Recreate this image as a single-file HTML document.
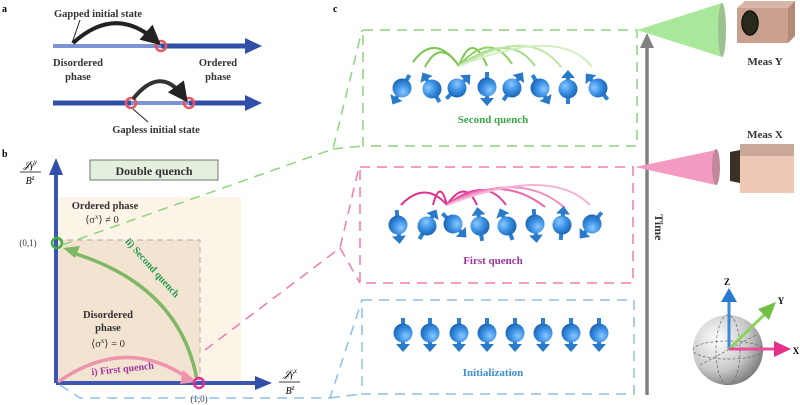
<!DOCTYPE html>
<html><head><meta charset="utf-8"><style>
html,body{margin:0;padding:0;background:#fff;}
svg{display:block;font-family:"Liberation Serif",serif;}
</style></head><body>
<svg width="800" height="405" viewBox="0 0 800 405" xmlns="http://www.w3.org/2000/svg">
<defs>
<radialGradient id="ball" cx="0.35" cy="0.35" r="0.7">
<stop offset="0" stop-color="#8cc8ff"/><stop offset="0.5" stop-color="#3d93e6"/><stop offset="1" stop-color="#1c64b4"/>
</radialGradient>
<radialGradient id="sph" cx="0.35" cy="0.35" r="0.75">
<stop offset="0" stop-color="#ffffff"/><stop offset="0.6" stop-color="#c8c8c8"/><stop offset="1" stop-color="#6e6e6e"/>
</radialGradient>
<g id="spin">
<rect x="-2" y="6" width="4" height="9" fill="#2d7fd0"/>
<rect x="-2" y="-13" width="4" height="6" fill="#2d7fd0"/>
<circle r="9.5" fill="url(#ball)"/>
<polygon points="-7,-11 7,-11 0,-19" fill="#2a78c8"/>
</g>
<marker id="bk" markerWidth="5" markerHeight="5" refX="3" refY="2.5" orient="auto" markerUnits="strokeWidth"><path d="M0,0 L5,2.5 L0,5z" fill="#222"/></marker>
</defs>

<!-- Panel a -->
<text x="2" y="12" font-size="10" font-weight="bold">a</text>
<line x1="53" y1="46" x2="161" y2="46" stroke="#7e93d3" stroke-width="4"/>
<line x1="161" y1="46" x2="248" y2="46" stroke="#2f4fa8" stroke-width="5"/>
<polygon points="245,38 262,46 245,54" fill="#2f4fa8"/>
<circle cx="161" cy="46" r="5" fill="none" stroke="#e9545f" stroke-width="2.5"/>
<path d="M73,43 Q115,5 155,40" fill="none" stroke="#222" stroke-width="4" marker-end="url(#bk)"/>
<line x1="80" y1="20" x2="72" y2="43" stroke="#222" stroke-width="1"/>
<text x="98" y="17" font-size="10.5" font-weight="bold" text-anchor="middle" fill="#333">Gapped initial state</text>
<text x="78" y="66" font-size="10.5" font-weight="bold" text-anchor="middle" fill="#333">Disordered</text>
<text x="78" y="80" font-size="10.5" font-weight="bold" text-anchor="middle" fill="#333">phase</text>
<text x="218" y="66" font-size="10.5" font-weight="bold" text-anchor="middle" fill="#333">Ordered</text>
<text x="218" y="80" font-size="10.5" font-weight="bold" text-anchor="middle" fill="#333">phase</text>
<line x1="53" y1="103" x2="131" y2="103" stroke="#2f4fa8" stroke-width="5"/>
<line x1="131" y1="103" x2="189" y2="103" stroke="#7e93d3" stroke-width="4"/>
<line x1="189" y1="103" x2="248" y2="103" stroke="#2f4fa8" stroke-width="5"/>
<polygon points="245,95 262,103 245,111" fill="#2f4fa8"/>
<circle cx="131" cy="103" r="5" fill="none" stroke="#e9545f" stroke-width="2.5"/>
<circle cx="189" cy="103" r="5" fill="none" stroke="#e9545f" stroke-width="2.5"/>
<path d="M133,99 Q160,65 183,96" fill="none" stroke="#333" stroke-width="4" marker-end="url(#bk)"/>
<line x1="133" y1="109" x2="148" y2="122" stroke="#222" stroke-width="1"/>
<text x="156" y="133" font-size="10.5" font-weight="bold" text-anchor="middle" fill="#333">Gapless initial state</text>

<!-- Panel b -->
<text x="2" y="157" font-size="10" font-weight="bold">b</text>
<rect x="57" y="197" width="184" height="186" fill="#fcf4e7"/>
<rect x="57" y="240" width="143" height="143" fill="#f3e4d2"/>
<path d="M57,240 H200 V383" fill="none" stroke="#b8b8b8" stroke-width="1.2" stroke-dasharray="6,4"/>
<rect x="90" y="160" width="128" height="20" fill="#e3f0dd" stroke="#555" stroke-width="0.8"/>
<text x="154" y="175" font-size="12" font-weight="bold" text-anchor="middle" fill="#333">Double quench</text>
<line x1="56" y1="383" x2="56" y2="172" stroke="#3a56b0" stroke-width="4"/>
<polygon points="49,175 56,158 63,175" fill="#2f4fa8"/>
<line x1="56" y1="383" x2="258" y2="383" stroke="#3a56b0" stroke-width="4"/>
<polygon points="255,376 272,383 255,390" fill="#2f4fa8"/>
<text x="30" y="168" font-size="10" font-style="italic" text-anchor="middle">𝒥γ<tspan font-size="7" dy="-4">y</tspan></text>
<line x1="20" y1="172" x2="41" y2="172" stroke="#000" stroke-width="0.7"/>
<text x="30" y="184" font-size="10" font-style="italic" text-anchor="middle">B<tspan font-size="7" dy="-4">z</tspan></text>
<text x="290" y="377" font-size="10" font-style="italic" text-anchor="middle">𝒥γ<tspan font-size="7" dy="-4">x</tspan></text>
<line x1="279" y1="382" x2="300" y2="382" stroke="#000" stroke-width="0.7"/>
<text x="290" y="394" font-size="10" font-style="italic" text-anchor="middle">B<tspan font-size="7" dy="-4">z</tspan></text>
<text x="105" y="209" font-size="10.5" font-weight="bold" text-anchor="middle" fill="#333">Ordered phase</text>
<text x="102" y="223" font-size="10.5" text-anchor="middle" fill="#333">⟨σ<tspan font-size="7" dy="-4">x</tspan><tspan dy="4">⟩ ≠ 0</tspan></text>
<text x="108" y="318" font-size="10.5" font-weight="bold" text-anchor="middle" fill="#333">Disordered</text>
<text x="108" y="331" font-size="10.5" font-weight="bold" text-anchor="middle" fill="#333">phase</text>
<text x="108" y="347" font-size="10.5" text-anchor="middle" fill="#333">⟨σ<tspan font-size="7" dy="-4">x</tspan><tspan dy="4">⟩ = 0</tspan></text>
<text x="28" y="246" font-size="9" text-anchor="middle" fill="#333">(0,1)</text>
<text x="199" y="402" font-size="9" text-anchor="middle" fill="#333">(1,0)</text>
<path d="M58,382 Q125,335 188,378" fill="none" stroke="#ee94ac" stroke-width="3.5"/>
<polygon points="183,370 197,382 180,384" fill="#ee94ac"/>
<path d="M197,380 Q180,285 70,252" fill="none" stroke="#7eb865" stroke-width="3.5"/>
<polygon points="63,248 80,246 75,258" fill="#7eb865"/>
<text x="123" y="372" font-size="10" font-weight="bold" fill="#a0359c" text-anchor="middle" transform="rotate(-6 123 372)">i) First quench</text>
<text x="150" y="270" font-size="10" font-weight="bold" fill="#1e9a46" text-anchor="middle" transform="rotate(48 150 270)">ii) Second quench</text>
<circle cx="57" cy="243" r="5" fill="none" stroke="#3cb043" stroke-width="2.5"/>
<circle cx="199" cy="383" r="5" fill="none" stroke="#e0309a" stroke-width="2.5"/>

<!-- connectors -->
<g fill="none" stroke-width="1.5" stroke-dasharray="10,7">
<path d="M62,245 L333,149 L362,30" stroke="#8ed47c"/>
<path d="M333,149 L363,146" stroke="#8ed47c"/>
<path d="M205,350 L340,248 L359,167" stroke="#f07cb0"/>
<path d="M340,248 L360,283" stroke="#f07cb0"/>
<path d="M60,385 L80,398 L330,398 L362,300" stroke="#8fc0e6"/>
<path d="M330,398 L362,394" stroke="#8fc0e6"/>
<rect x="363" y="30" width="274" height="116" stroke="#8ed47c"/>
<rect x="360" y="167" width="273" height="116" stroke="#f07cb0"/>
<rect x="362" y="300" width="272" height="94" stroke="#8fc0e6"/>
</g>
<text x="333" y="12" font-size="10" font-weight="bold">c</text>

<!-- green arcs -->
<g fill="none" stroke-width="2">
<path d="M413,62 Q435,32 459,66" stroke="#7cc750"/>
<path d="M425,67 Q440,38 459,66" stroke="#7cc750"/>
<path d="M459,66 Q472,30 487,66" stroke="#7cc750"/>
<path d="M459,66 Q490,30 512,64" stroke="#8fd064"/>
<path d="M459,66 Q510,30 535,66" stroke="#a6dc84" />
<path d="M459,66 Q530,25 561,67" stroke="#bde6a4"/>
<path d="M459,66 Q560,25 592,67" stroke="#d3eec2"/>
</g>
<g>
<use href="#spin" transform="translate(402,88) rotate(210)"/>
<use href="#spin" transform="translate(432,89) rotate(-30)"/>
<use href="#spin" transform="translate(457,88) rotate(45)"/>
<use href="#spin" transform="translate(487,87) rotate(180)"/>
<use href="#spin" transform="translate(512,88) rotate(35)"/>
<use href="#spin" transform="translate(540,88) rotate(150)"/>
<use href="#spin" transform="translate(568,89) rotate(0)"/>
<use href="#spin" transform="translate(598,88) rotate(-40)"/>
</g>
<text x="493" y="123" font-size="11" font-weight="bold" text-anchor="middle" fill="#3aa84a">Second quench</text>

<!-- pink arcs -->
<g fill="none" stroke-width="2">
<path d="M401,205 Q425,180 447,205" stroke="#e0308e"/>
<path d="M433,205 Q440,178 447,205" stroke="#e0308e"/>
<path d="M447,205 Q465,178 477,205" stroke="#e0308e"/>
<path d="M447,205 Q485,175 506,205" stroke="#e4489c"/>
<path d="M447,205 Q500,172 545,207" stroke="#ea6aae"/>
<path d="M447,205 Q520,168 565,208" stroke="#f08fc0"/>
<path d="M447,205 Q550,165 590,205" stroke="#f5b4d6"/>
</g>
<g>
<use href="#spin" transform="translate(398,225) rotate(175)"/>
<use href="#spin" transform="translate(427,226) rotate(30)"/>
<use href="#spin" transform="translate(453,224) rotate(135)"/>
<use href="#spin" transform="translate(480,226) rotate(-8)"/>
<use href="#spin" transform="translate(507,226) rotate(-22)"/>
<use href="#spin" transform="translate(535,224) rotate(175)"/>
<use href="#spin" transform="translate(562,225) rotate(5)"/>
<use href="#spin" transform="translate(592,224) rotate(220)"/>
</g>
<text x="493" y="264" font-size="11" font-weight="bold" text-anchor="middle" fill="#a0359c">First quench</text>

<g>
<use href="#spin" transform="translate(403,333) rotate(180)"/>
<use href="#spin" transform="translate(430,333) rotate(180)"/>
<use href="#spin" transform="translate(459,333) rotate(180)"/>
<use href="#spin" transform="translate(487,333) rotate(180)"/>
<use href="#spin" transform="translate(515,333) rotate(180)"/>
<use href="#spin" transform="translate(543,333) rotate(180)"/>
<use href="#spin" transform="translate(571,333) rotate(180)"/>
<use href="#spin" transform="translate(599,333) rotate(180)"/>
</g>
<text x="493" y="376" font-size="11" font-weight="bold" text-anchor="middle" fill="#3d8fd6">Initialization</text>

<!-- time arrow -->
<line x1="647" y1="395" x2="647" y2="45" stroke="#808080" stroke-width="3.5"/>
<polygon points="640,48 647,33 654,48" fill="#808080"/>
<text x="0" y="0" font-size="12" font-weight="bold" fill="#333" transform="translate(655,214) rotate(90)">Time</text>

<!-- cameras -->
<polygon points="637,30 722,3 722,57" fill="#a9e89a"/>
<ellipse cx="722" cy="30" rx="4" ry="27" fill="#9cc090"/>
<polygon points="737,8 745,1 795,1 795,36 788,43 737,43" fill="#c9a08e"/>
<polygon points="788,8 795,1 795,36 788,43" fill="#b18a78"/>
<polygon points="737,8 745,1 795,1 788,8" fill="#d9b6a6"/>
<ellipse cx="750" cy="23" rx="8" ry="12" fill="#2a2a1a" stroke="#111" stroke-width="1.5"/>
<text x="765" y="65" font-size="11" font-weight="bold" text-anchor="middle" fill="#333">Meas Y</text>
<text x="765" y="138" font-size="11" font-weight="bold" text-anchor="middle" fill="#333">Meas X</text>
<polygon points="635,167 716,150 716,185" fill="#f39ac0"/>
<ellipse cx="716" cy="167" rx="4" ry="18" fill="#c0889a"/>
<rect x="740" y="144" width="54" height="49" fill="#eec8b4"/>
<rect x="740" y="144" width="54" height="12" fill="#c9a89a"/>
<polygon points="730,152 740,150 740,183 730,181" fill="#3a3028"/>

<!-- Bloch sphere -->
<circle cx="728" cy="350" r="35" fill="url(#sph)"/>
<g fill="none" stroke="#666" stroke-width="0.7" stroke-dasharray="3,2">
<ellipse cx="728" cy="350" rx="35" ry="9"/>
<ellipse cx="728" cy="350" rx="12" ry="35"/>
<line x1="700" y1="365" x2="756" y2="335"/>
</g>
<line x1="729" y1="349" x2="729" y2="300" stroke="#3a8ad8" stroke-width="3"/>
<polygon points="721,302 729,288 737,302" fill="#2a7bd0"/>
<line x1="729" y1="349" x2="765" y2="314" stroke="#8ad45e" stroke-width="3"/>
<polygon points="758,309 776,302 769,320" fill="#72c043"/>
<line x1="729" y1="349" x2="775" y2="349" stroke="#e94c9a" stroke-width="3"/>
<polygon points="774,341 791,349 774,357" fill="#e5308a"/>
<text x="727" y="285" font-size="9" font-weight="bold" text-anchor="middle">Z</text>
<text x="781" y="304" font-size="9" font-weight="bold" text-anchor="middle">Y</text>
<text x="796" y="354" font-size="9" font-weight="bold" text-anchor="middle">X</text>
</svg>
</body></html>
